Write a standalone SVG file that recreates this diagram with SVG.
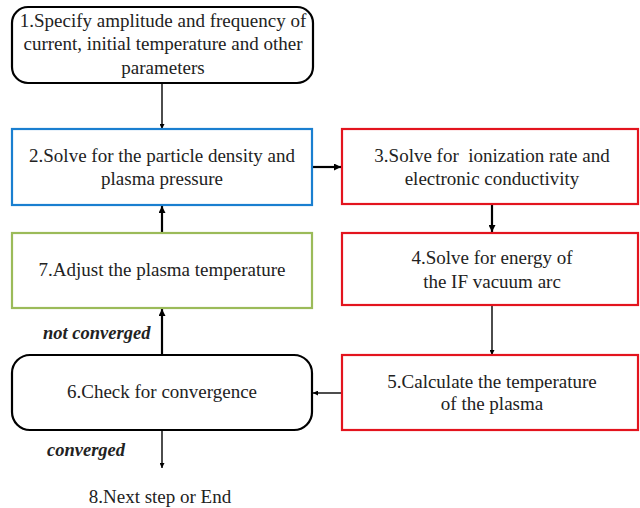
<svg xmlns="http://www.w3.org/2000/svg" width="640" height="508" viewBox="0 0 640 508">
<defs>
<marker id="ah" viewBox="0 0 10 10" refX="10" refY="5" markerWidth="5" markerHeight="5" orient="auto" markerUnits="userSpaceOnUse">
<path d="M0,0 L10,5 L0,10 z" fill="#000"/>
</marker>
<marker id="ah2" viewBox="0 0 10 10" refX="10" refY="5" markerWidth="7" markerHeight="7" orient="auto" markerUnits="userSpaceOnUse">
<path d="M0,0 L10,5 L0,10 z" fill="#000"/>
</marker>
</defs>
<style>
text{font-family:'Liberation Serif','DejaVu Serif',serif;font-size:19px;fill:#222;text-anchor:middle;white-space:pre}
.lbl{font-weight:bold;font-style:italic;font-size:18.5px;text-anchor:start}
.box{fill:#fff;stroke-width:2.2}
.blk{stroke:#000}
.blue{stroke:#1a7fd0}
.red{stroke:#e3141e}
.green{stroke:#9bbb59}
.c{stroke:#000;stroke-width:1.4;fill:none}
.cb{stroke:#000;stroke-width:2.2;fill:none}
</style>
<rect width="640" height="508" fill="#fff"/>
<g id="connectors">
<line class="c" x1="162" y1="84" x2="162" y2="129" marker-end="url(#ah)"/>
<line class="cb" x1="313" y1="167" x2="341" y2="167" marker-end="url(#ah2)"/>
<line class="cb" x1="492" y1="205" x2="492" y2="232" marker-end="url(#ah2)"/>
<line class="cb" x1="162" y1="232" x2="162" y2="206" marker-end="url(#ah2)"/>
<line class="c" x1="492" y1="306" x2="492" y2="355" marker-end="url(#ah)"/>
<line class="c" x1="342" y1="393" x2="313" y2="393" marker-end="url(#ah)"/>
<line class="cb" x1="162" y1="354" x2="162" y2="309" marker-end="url(#ah2)"/>
<line class="c" x1="162" y1="431" x2="162" y2="468" marker-end="url(#ah)"/>
<text class="lbl" x="43" y="339">not converged</text>
<text class="lbl" x="47" y="456">converged</text>
</g>
<g id="n1">
<rect class="box blk" x="12" y="7" width="301" height="76" rx="16"/>
<text x="163" y="27">1.Specify amplitude and frequency of</text>
<text x="163" y="50">current, initial temperature and other</text>
<text x="163" y="74">parameters</text>
</g>
<g id="n2">
<rect class="box blue" x="12" y="129" width="300" height="76"/>
<text x="162" y="162">2.Solve for the particle density and</text>
<text x="162" y="185">plasma pressure</text>
</g>
<g id="n3">
<rect class="box red" x="342" y="129" width="296" height="75"/>
<text x="492" y="162" xml:space="preserve">3.Solve for  ionization rate and</text>
<text x="492" y="185">electronic conductivity</text>
</g>
<g id="n4">
<rect class="box red" x="342" y="233" width="296" height="72"/>
<text x="492" y="264">4.Solve for energy of</text>
<text x="492" y="288">the IF vacuum arc</text>
</g>
<g id="n7">
<rect class="box green" x="12" y="233" width="300" height="75"/>
<text x="162" y="276">7.Adjust the plasma temperature</text>
</g>
<g id="n5">
<rect class="box red" x="342" y="355" width="296" height="75"/>
<text x="492" y="388">5.Calculate the temperature</text>
<text x="492" y="410">of the plasma</text>
</g>
<g id="n6">
<rect class="box blk" x="12" y="355" width="300" height="75" rx="18"/>
<text x="162" y="398">6.Check for convergence</text>
</g>
<g id="n8">
<text x="160" y="503">8.Next step or End</text>
</g>
</svg>
